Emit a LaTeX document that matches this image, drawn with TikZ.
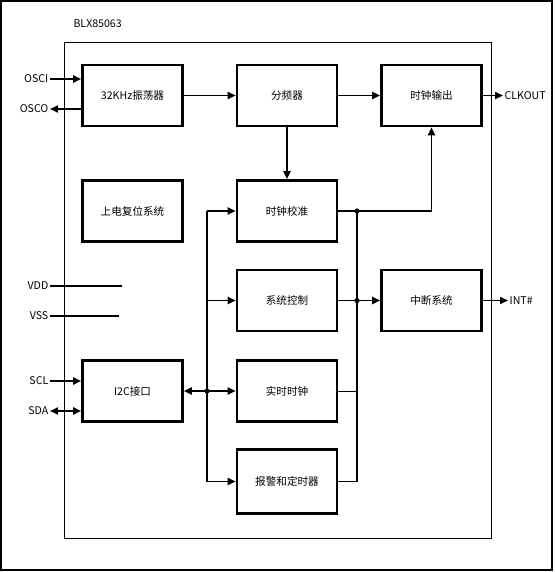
\documentclass[tikz,border=0pt]{standalone}
\usepackage{fontspec}
\setmainfont{Noto Sans CJK SC}
\usetikzlibrary{arrows.meta}

\begin{document}
\begin{tikzpicture}[x=1pt,y=-1pt,font=\fontsize{10.6}{12}\selectfont,
    blk/.style={draw, line width=2.6pt, minimum width=100pt, minimum height=61pt, inner sep=0pt},
    conn/.style={line width=1.8pt},
    arr/.style={conn, -{Triangle[length=8pt,width=7pt]}},
    biarr/.style={conn, {Triangle[length=8pt,width=7pt]}-{Triangle[length=8pt,width=7pt]}},
    pin/.style={inner sep=1.5pt}]
  \useasboundingbox (0,0) rectangle (554,572);
  \draw[line width=1.2pt] (1,1) rectangle (552,570);
  \draw[line width=1pt] (64,43) rectangle (491,538);
  \node[anchor=west] (chip) at (70,24) {BLX85063};
  % blocks
  \node[blk] (osc) at (132.5,95.5) {32KHz振荡器};
  \node[blk] (div) at (287,95.5) {分频器};
  \node[blk] (clko) at (431.5,95.5) {时钟输出};
  \node[blk] (pwr) at (132.5,211) {上电复位系统};
  \node[blk] (calib) at (287,211) {时钟校准};
  \node[blk] (ctrl) at (287,300.5) {系统控制};
  \node[blk] (intr) at (431.5,300.5) {中断系统};
  \node[blk] (rtc) at (287,391) {实时时钟};
  \node[blk, minimum height=64pt] (alarm) at (287,481.5) {报警和定时器};
  \node[blk] (iic) at (132.5,391) {I2C接口};
  % pins
  \node[pin, anchor=east] (osci) at (50,79) {OSCI};
  \node[pin, anchor=east] (osco) at (50,109) {OSCO};
  \node[pin, anchor=east] (vdd) at (50,286) {VDD};
  \node[pin, anchor=east] (vss) at (50,316) {VSS};
  \node[pin, anchor=east] (scl) at (50,381) {SCL};
  \node[pin, anchor=east] (sda) at (50,411) {SDA};
  \node[pin, anchor=west] (clkout) at (503,95.5) {CLKOUT};
  \node[pin, anchor=west] (int) at (508,300.5) {INT\#};
  \coordinate (vddend) at (122,286);
  \coordinate (vssend) at (119,316);
  \coordinate (jtop) at (357,211);
  \coordinate (jmid) at (357,300.5);
  \coordinate (jleft) at (207,391);
  % connections
  \draw[arr] (osci) -- (osci -| osc.west);
  \draw[arr] (osco -| osc.west) -- (osco);
  \draw[conn] (vdd) -- (vddend);
  \draw[conn] (vss) -- (vssend);
  \draw[arr] (scl) -- (scl -| iic.west);
  \draw[biarr] (sda) -- (sda -| iic.west);
  \draw[arr] (osc) -- (div);
  \draw[arr] (div) -- (clko);
  \draw[arr] (clko) -- (clkout);
  \draw[arr] (div) -- (calib);
  \draw[arr] (calib.east) -- (jtop) -| (clko.south);
  \draw[conn] (jtop) -- (jtop |- alarm) -- (alarm.east);
  \draw[line width=1pt] (rtc.east) -- (jtop |- rtc);
  \draw[arr] (ctrl) -- (intr);
  \draw[arr] (intr) -- (int);
  \draw[conn] (jleft |- calib) -- (jleft |- alarm);
  \draw[arr] (jleft |- calib) -- (calib.west);
  \draw[arr] (jleft |- ctrl) -- (ctrl.west);
  \draw[arr] (jleft |- alarm) -- (alarm.west);
  \draw[biarr] (iic) -- (rtc);
  \foreach \j in {jtop,jmid,jleft} \fill (\j) circle (2.6);
\end{tikzpicture}
\end{document}
